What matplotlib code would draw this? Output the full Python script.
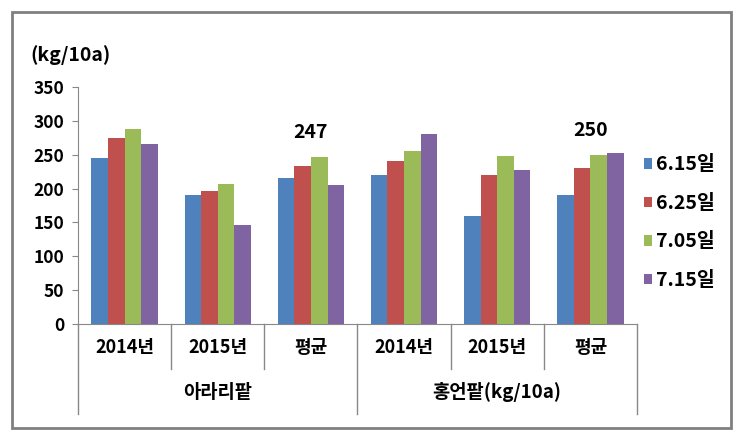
import matplotlib
matplotlib.use("Agg")
import matplotlib.pyplot as plt
import matplotlib.transforms as mtrans
import numpy as np

plt.rcParams['font.family'] = ['Noto Sans CJK KR', 'DejaVu Sans']
plt.rcParams['font.weight'] = 'bold'

# 데이터
categories = ['2014년', '2015년', '평균', '2014년', '2015년', '평균']
groups = ['아라리팥', '홍언팥(kg/10a)']
series_names = ['6.15일', '6.25일', '7.05일', '7.15일']
s615 = [245, 191, 216, 220, 160, 191]
s625 = [275, 196, 234, 241, 220, 230]
s705 = [288, 207, 247, 255, 248, 250]
s715 = [266, 146, 205, 280, 228, 253]
annot_idx = [2, 5]
annot_text = ['247', '250']
colors = ['#4F81BD', '#C0504D', '#9BBB59', '#8064A2']

W, H = 741, 436
fig = plt.figure(figsize=(W / 100, H / 100), dpi=100)
ax = fig.add_axes([78 / W, (H - 324) / H, (637 - 78) / W, (324 - 87) / H])

x = np.arange(len(categories))
bw = 0.178
for i, vals in enumerate([s615, s625, s705, s715]):
    ax.bar(x + (i - 1.5) * bw, vals, bw, color=colors[i], label=series_names[i])

ax.set_xlim(-0.5, len(categories) - 0.5)
ax.set_ylim(0, 350)
ax.set_yticks(range(0, 351, 50))
ax.tick_params(axis='y', labelsize=12.5, length=4, color='#888888', pad=6)
ax.set_xticks(x)
ax.set_xticklabels(categories, fontsize=13)
ax.tick_params(axis='x', length=0, pad=10)
for sp in ['top', 'right']:
    ax.spines[sp].set_visible(False)
ax.spines['left'].set_color('#888888')
ax.spines['bottom'].set_color('#888888')

# 구분선
trans = mtrans.blended_transform_factory(ax.transData, ax.transAxes)
px = 1 / (324 - 87)
for b in np.arange(-0.5, len(categories), 1.0):
    big = b in (-0.5, 2.5, 5.5)
    low = -(414 - 324) * px if big else -(369 - 324) * px
    ax.plot([b, b], [0, low], transform=trans, color='#888888', lw=1, clip_on=False)

for gi, g in enumerate(groups):
    ax.text(gi * 3 + 1, -(392 - 324) * px, g, transform=trans, ha='center', va='center',
            fontsize=13.5)

for idx, t in zip(annot_idx, annot_text):
    ax.text(x[idx], s705[idx] + 22, t, ha='center', va='bottom', fontsize=14)

fig.text(30 / W, 1 - 55 / H, '(kg/10a)', ha='left', va='center', fontsize=14)

ax.legend(loc='upper left', bbox_to_anchor=(626 / W, 1 - 138 / H), bbox_transform=fig.transFigure,
          frameon=False, fontsize=14, handlelength=0.45, handleheight=0.45, handletextpad=0.2,
          labelspacing=1.0)

# 바깥 테두리
fig.patches.append(plt.Rectangle((12 / W, 1 - 428 / H), (731 - 12) / W, (428 - 12) / H,
                                 transform=fig.transFigure, fill=False, edgecolor='#808080', lw=2))

fig.savefig('out.png', dpi=100)
